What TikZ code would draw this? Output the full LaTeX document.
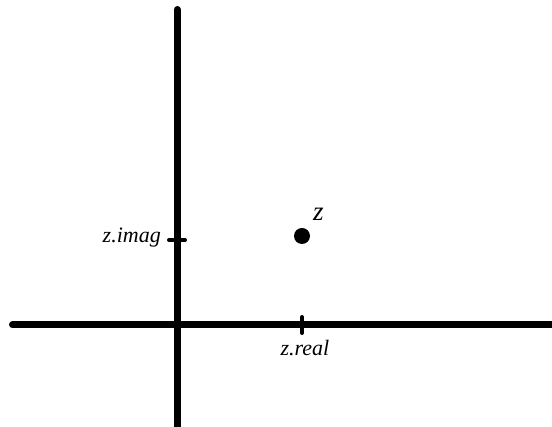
\documentclass[tikz,border=0pt]{standalone}
\usepackage{fontspec}
\setmainfont{Liberation Serif}
\usetikzlibrary{positioning}
\tikzset{axis/.style={line width=7pt, line cap=round},
  tick/.style={line width=4pt, line cap=round},
  lbl/.style={font=\fontsize{22}{22}\selectfont\itshape, inner sep=1pt}}

\begin{document}
\begin{tikzpicture}[x=1pt, y=1pt]
  \clip (0,0) rectangle (552,427);
  \coordinate (O) at (177,102);
  % axes
  \coordinate (xl) at (12.5,102);
  \coordinate (xr) at (570,102);
  \coordinate (yt) at (177,417.5);
  \coordinate (yb) at (177,-20);
  \draw[axis] (xl) -- (xr);
  \draw[axis] (yt) -- (yb);
  % point z
  \node[circle, fill, inner sep=0pt, minimum size=16pt] (z) at (302,191) {};
  \node[lbl, font=\fontsize{27}{27}\selectfont\itshape, above right=8pt and 4pt of z] (zlbl) {z};
  % ticks
  \coordinate (re) at (302,102);
  \coordinate (im) at (177,187);
  \draw[tick] ([yshift=8pt]re) -- ([yshift=-8pt]re);
  \draw[tick] ([xshift=-8pt]im) -- ([xshift=8pt]im);
  \node[lbl, below=14pt of re, xshift=3pt] (relbl) {z.real};
  \node[lbl, left=15pt of im, yshift=2pt] (imlbl) {z.imag};
\end{tikzpicture}
\end{document}
